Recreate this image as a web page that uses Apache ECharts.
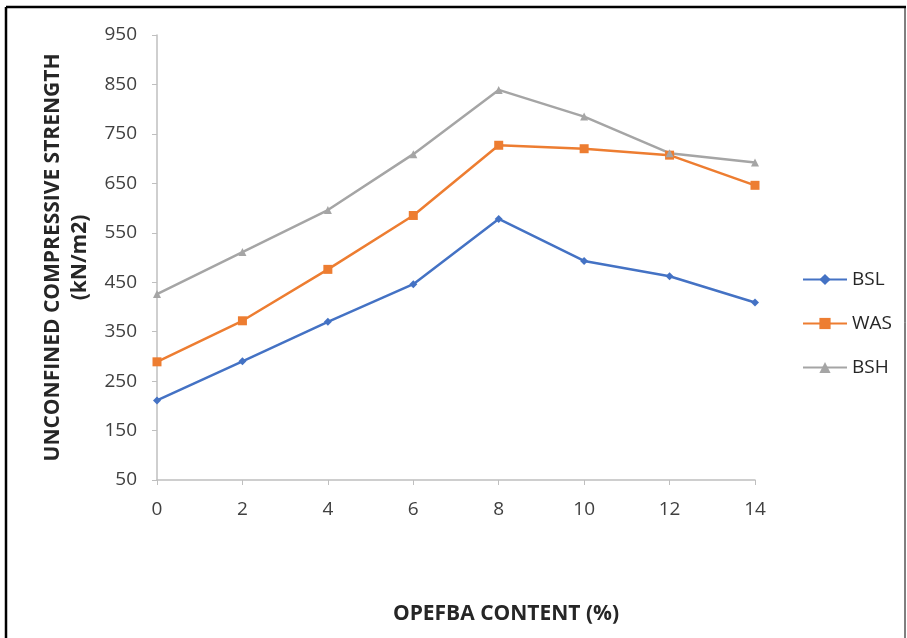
<!DOCTYPE html>
<html>
<head>
<meta charset="utf-8">
<script src="https://cdn.jsdelivr.net/npm/echarts@6/dist/echarts.min.js"></script>
<style>html,body{margin:0;padding:0;background:#fff}#c{width:907px;height:638px}</style>
</head>
<body>
<div id="c"></div>
<script>
var content = [0, 2, 4, 6, 8, 10, 12, 14];
var bsl = [211, 290, 370, 446, 578, 493, 462, 409];
var was = [289, 372, 476, 585, 727, 720, 707, 646];
var bsh = [426, 511, 596, 709, 839, 785, 711, 692];
var seriesNames = ['BSL', 'WAS', 'BSH'];

function pairs(vals) { return content.map(function (x, i) { return [x, vals[i]]; }); }

var chart = echarts.init(document.getElementById('c'), null, {renderer: 'canvas'});
var font = 'Open Sans';
chart.setOption({
  backgroundColor: '#fff',
  animation: false,
  grid: {left: 157, right: 152, top: 35, bottom: 158},
  legend: {
    orient: 'vertical', left: 797, top: 265, itemGap: 25, itemWidth: 44, itemHeight: 14,
    textStyle: {fontFamily: font, fontSize: 19, color: '#262626'},
    data: seriesNames
  },
  xAxis: {
    type: 'value', min: 0, max: 14, interval: 2,
    name: 'OPEFBA CONTENT (%)', nameLocation: 'middle', nameGap: 124,
    nameTextStyle: {fontFamily: font, fontSize: 21, fontWeight: 'bold', color: '#262626', padding: [0, 0, 0, 100]},
    axisLine: {lineStyle: {color: '#bfbfbf', width: 1.5}},
    axisTick: {show: true, inside: false, length: 5, lineStyle: {color: '#bfbfbf'}},
    axisLabel: {fontFamily: font, fontSize: 19, color: '#404040', margin: 20},
    splitLine: {show: false}
  },
  yAxis: {
    type: 'value', min: 50, max: 950, interval: 100,
    name: 'UNCONFINED COMPRESSIVE STRENGTH\n(kN/m2)', nameLocation: 'middle', nameGap: 53,
    nameTextStyle: {fontFamily: font, fontSize: 21, fontWeight: 'bold', color: '#262626', lineHeight: 27},
    axisLine: {show: true, lineStyle: {color: '#bfbfbf', width: 1.5}},
    axisTick: {show: true, inside: false, length: 5, lineStyle: {color: '#bfbfbf'}},
    axisLabel: {fontFamily: font, fontSize: 19, color: '#404040', margin: 20},
    splitLine: {show: false}
  },
  graphic: [
    {type: 'line', shape: {x1: 6, y1: 7, x2: 906, y2: 7}, style: {stroke: '#000', lineWidth: 2.5}},
    {type: 'line', shape: {x1: 6, y1: 7, x2: 6, y2: 638}, style: {stroke: '#000', lineWidth: 2.5}},
    {type: 'line', shape: {x1: 905, y1: 7, x2: 905, y2: 638}, style: {stroke: '#000', lineWidth: 1}}
  ],
  series: [
    {name: 'BSL', type: 'line', data: pairs(bsl), symbol: 'diamond', symbolSize: 8,
     lineStyle: {color: '#4472C4', width: 2.5}, itemStyle: {color: '#4472C4'}},
    {name: 'WAS', type: 'line', data: pairs(was), symbol: 'rect', symbolSize: 9,
     lineStyle: {color: '#ED7D31', width: 2.5}, itemStyle: {color: '#ED7D31'}},
    {name: 'BSH', type: 'line', data: pairs(bsh), symbol: 'triangle', symbolSize: 8,
     lineStyle: {color: '#A5A5A5', width: 2.5}, itemStyle: {color: '#A5A5A5'}}
  ]
});
</script>
</body>
</html>
